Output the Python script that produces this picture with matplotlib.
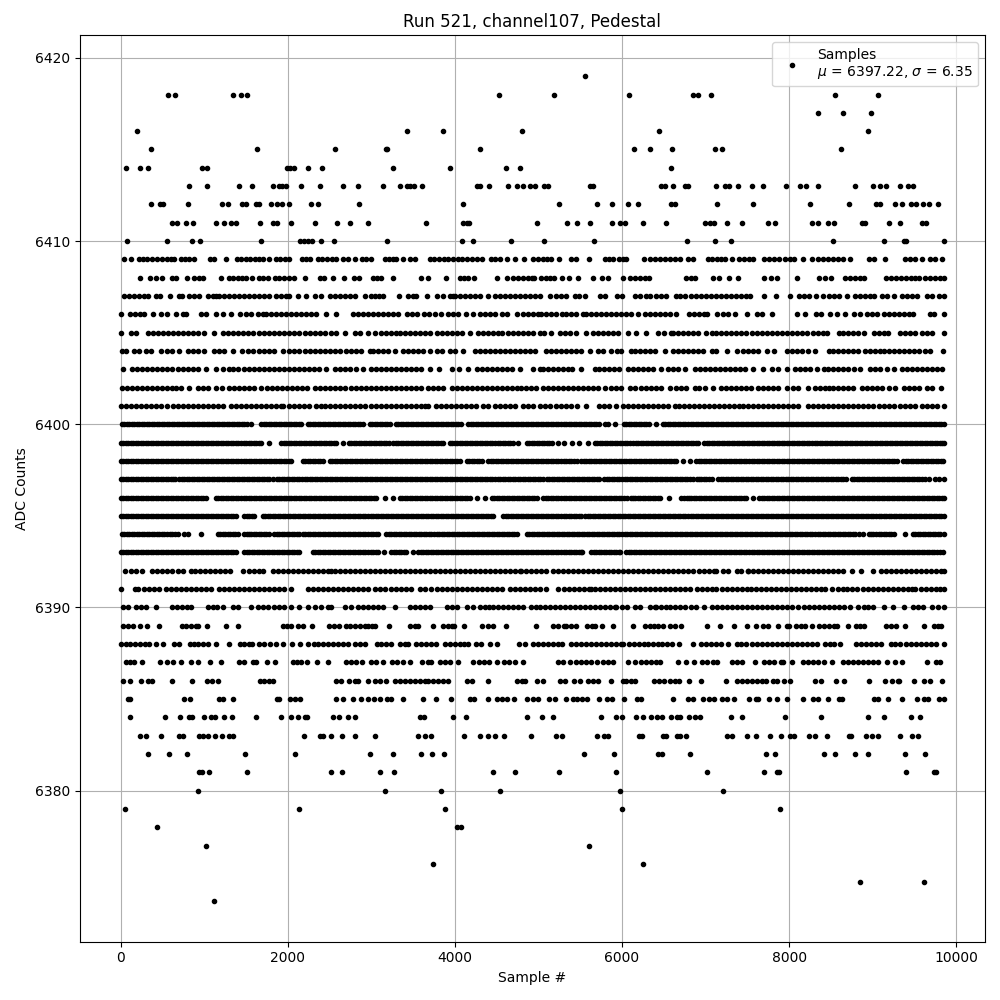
from matplotlib import pyplot as plt

# sample numbers, one list per ADC level
adc_6374 = [1112]
adc_6375 = [8844, 9612]
adc_6376 = [3740, 6252]
adc_6377 = [1016, 5604]
adc_6378 = [440, 4028, 4076]
adc_6379 = [56, 2132, 3884, 6000, 7896]
adc_6380 = [920, 3164, 3836, 4544, 5976, 7212]
adc_6381 = [932, 976, 1060, 1508, 2516, 2648, 3104, 3272, 4460, 4724, 5244, 5928, 7020, 7704, 7852, 7880, 9396, 9740, 9764]
adc_6382 = [332, 584, 788, 1484, 2084, 2984, 3260, 3596, 3728, 3872, 5544, 5904, 6432, 6476, 6816, 7728, 7836, 8412, 8544, 8784, 8940, 9384, 9624]
adc_6383 = [236, 300, 480, 692, 740, 940, 990, 1050, 1124, 1208, 1292, 1340, 2192, 2380, 2420, 2516, 2648, 2804, 3044, 3560, 3640, 3720, 4112, 4304, 4400, 4480, 4592, 4916, 5212, 5284, 5704, 5780, 5832, 6204, 6244, 6492, 6524, 6660, 6692, 6768, 7260, 7320, 7500, 7608, 7776, 7908, 8016, 8064, 8244, 8304, 8448, 8712, 8740, 8916, 8988, 9060, 9324, 9472, 9540]
adc_6384 = [116, 536, 704, 812, 852, 992, 1080, 1128, 1232, 1328, 1616, 1916, 2040, 2124, 2200, 2228, 2540, 2612, 2720, 2804, 3584, 3636, 3980, 4136, 4868, 5040, 5172, 5748, 5932, 6000, 6168, 6256, 6348, 6420, 6480, 6588, 6660, 6700, 6804, 6876, 6936, 7308, 7440, 7956, 8376, 8940, 9132, 9456, 9564]
adc_6385 = [88, 108, 752, 830, 1172, 1220, 1340, 1868, 1900, 2028, 2088, 2148, 2576, 2660, 2776, 2880, 2960, 3028, 3104, 3188, 3240, 3380, 3620, 3776, 3956, 4180, 4228, 4400, 4500, 4560, 4620, 4704, 4868, 4932, 5000, 5124, 5200, 5332, 5410, 5460, 5524, 5584, 5724, 5820, 5880, 6024, 6180, 6232, 6612, 6792, 6852, 6972, 7040, 7104, 7192, 7252, 7340, 7524, 7600, 7632, 7764, 7860, 7972, 8172, 8284, 8340, 8460, 8592, 8632, 9020, 9064, 9180, 9352, 9532, 9612, 9660, 9792, 9850]
adc_6386 = [28, 116, 240, 332, 380, 620, 848, 1028, 1090, 1160, 1668, 1720, 1780, 1820, 2580, 2640, 2732, 2800, 2840, 2960, 3040, 3100, 3180, 3280, 3340, 3400, 3460, 3520, 3580, 3640, 3680, 3740, 3800, 3860, 3920, 4148, 4200, 4392, 4740, 4800, 4840, 4988, 5052, 5260, 5312, 5420, 5492, 5592, 5652, 5712, 5868, 6012, 6052, 6104, 6152, 6384, 6440, 6500, 6570, 6632, 6684, 6796, 6948, 7240, 7372, 7432, 7492, 7552, 7612, 7680, 7720, 7812, 7860, 7940, 8012, 8312, 8380, 8556, 8652, 8952, 9144, 9232, 9300, 9312, 9492, 9612, 9692, 9828]
adc_6387 = [60, 110, 160, 260, 468, 550, 628, 720, 840, 920, 1068, 1196, 1412, 1480, 1580, 1620, 1752, 1848, 2060, 2110, 2160, 2228, 2348, 2480, 2700, 2760, 2820, 2888, 3000, 3060, 3140, 3248, 3310, 3380, 3460, 3612, 3680, 3720, 3820, 3880, 3940, 4040, 4212, 4292, 4350, 4410, 4500, 4592, 4650, 4720, 4820, 5232, 5290, 5372, 5452, 5510, 5570, 5630, 5700, 5770, 5830, 5892, 6072, 6160, 6232, 6290, 6350, 6404, 6452, 6672, 6764, 6864, 6960, 7020, 7084, 7140, 7312, 7380, 7432, 7592, 7704, 7760, 7820, 7900, 7932, 8040, 8172, 8230, 8290, 8340, 8412, 8512, 8640, 8700, 8760, 8820, 8880, 8940, 9000, 9060, 9172, 9264, 9352, 9652, 9764, 9810]
adc_6388 = [0, 60, 110, 170, 230, 290, 340, 420, 504, 640, 692, 828, 880, 930, 990, 1040, 1136, 1296, 1428, 1480, 1530, 1568, 1660, 1720, 1790, 1860, 1948, 2052, 2148, 2240, 2308, 2360, 2420, 2480, 2540, 2600, 2660, 2720, 2800, 2860, 2920, 3068, 3120, 3180, 3240, 3340, 3400, 3440, 3532, 3590, 3650, 3710, 3770, 3880, 3940, 4000, 4060, 4110, 4160, 4252, 4308, 4420, 4500, 4772, 4840, 4940, 4996, 5060, 5120, 5180, 5240, 5284, 5392, 5450, 5510, 5570, 5630, 5690, 5750, 5810, 5870, 5930, 5990, 6012, 6080, 6140, 6200, 6260, 6312, 6372, 6432, 6484, 6540, 6600, 6680, 6852, 6944, 7004, 7064, 7124, 7184, 7272, 7372, 7430, 7490, 7550, 7610, 7670, 7730, 7790, 7850, 7910, 7970, 8030, 8090, 8150, 8210, 8270, 8330, 8432, 8490, 8540, 8612, 8804, 8860, 8920, 8980, 9040, 9100, 9224, 9270, 9332, 9404, 9460, 9520, 9580, 9640, 9700, 9760, 9850]
adc_6389 = [28, 90, 150, 228, 320, 460, 732, 780, 840, 900, 928, 1028, 1256, 1400, 1940, 1990, 2040, 2120, 2188, 2292, 2492, 2550, 2610, 2692, 2740, 2800, 2860, 2920, 2960, 3012, 3048, 3216, 3460, 3520, 3560, 3740, 3852, 3920, 3960, 3992, 4112, 4320, 4400, 4460, 4608, 4968, 5180, 5240, 5300, 5332, 5392, 5452, 5580, 5640, 5672, 5764, 5892, 6132, 6272, 6340, 6380, 6432, 6490, 6570, 6632, 6712, 7012, 7172, 7344, 7500, 7600, 7692, 7750, 7870, 7980, 8000, 8080, 8140, 8192, 8272, 8352, 8412, 8480, 8540, 8572, 8700, 8800, 8844, 8900, 9164, 9220, 9280, 9392, 9612, 9732, 9780, 9812]
adc_6390 = [28, 90, 188, 240, 300, 428, 612, 670, 730, 790, 840, 1040, 1100, 1150, 1220, 1340, 1410, 1560, 1640, 1700, 1760, 1840, 1900, 1960, 2040, 2140, 2240, 2320, 2400, 2480, 2520, 2680, 2760, 2840, 2900, 2960, 3020, 3080, 3140, 3280, 3460, 3520, 3580, 3640, 3700, 3900, 3960, 4020, 4140, 4220, 4300, 4360, 4408, 4460, 4520, 4580, 4640, 4700, 4760, 4812, 4912, 4970, 5020, 5080, 5140, 5200, 5260, 5320, 5380, 5440, 5500, 5560, 5620, 5680, 5740, 5800, 5860, 5920, 5932, 6004, 6060, 6152, 6210, 6332, 6392, 6412, 6472, 6532, 6572, 6632, 6692, 6760, 6820, 6880, 6980, 7072, 7132, 7192, 7252, 7312, 7372, 7432, 7492, 7552, 7612, 7672, 7732, 7792, 7852, 7912, 7972, 8032, 8112, 8180, 8240, 8300, 8360, 8420, 8480, 8540, 8600, 8660, 8732, 8824, 8892, 8950, 9010, 9132, 9244, 9372, 9484, 9540, 9600, 9712, 9780, 9850]
adc_6391 = [0, 172, 212, 280, 340, 400, 460, 540, 600, 660, 720, 780, 840, 900, 960, 1020, 1080, 1180, 1240, 1300, 1360, 1420, 1480, 1540, 1600, 1660, 1720, 1780, 1840, 1900, 1960, 2040, 2240, 2300, 2360, 2420, 2480, 2540, 2600, 2660, 2720, 2780, 2840, 2900, 2960, 3040, 3100, 3160, 3240, 3300, 3360, 3420, 3480, 3580, 3640, 3720, 3780, 3840, 3900, 3960, 4020, 4080, 4140, 4200, 4260, 4320, 4380, 4440, 4500, 4560, 4660, 4720, 4780, 4840, 4900, 4960, 5020, 5090, 5240, 5300, 5360, 5420, 5480, 5540, 5600, 5632, 5680, 5740, 5800, 5860, 5920, 5980, 6040, 6100, 6160, 6220, 6280, 6340, 6400, 6452, 6512, 6572, 6632, 6692, 6752, 6812, 6900, 6960, 7012, 7072, 7120, 7192, 7252, 7320, 7380, 7432, 7492, 7540, 7600, 7660, 7720, 7780, 7840, 7900, 7960, 8020, 8080, 8140, 8200, 8260, 8320, 8380, 8430, 8512, 8580, 8640, 8692, 8752, 8812, 8880, 8940, 9000, 9060, 9120, 9180, 9240, 9300, 9360, 9420, 9472, 9512, 9580, 9640, 9700, 9760, 9810, 9850]
adc_6392 = [52, 120, 180, 260, 380, 440, 500, 560, 620, 680, 740, 840, 892, 950, 1010, 1070, 1130, 1190, 1250, 1310, 1460, 1530, 1590, 1650, 1700, 1820, 1880, 1940, 2000, 2060, 2120, 2180, 2240, 2300, 2360, 2420, 2480, 2520, 2560, 2620, 2680, 2740, 2800, 2860, 2920, 2980, 3040, 3100, 3160, 3220, 3280, 3340, 3400, 3460, 3520, 3580, 3640, 3700, 3760, 3820, 3880, 3940, 4000, 4060, 4120, 4180, 4240, 4300, 4360, 4420, 4480, 4540, 4600, 4660, 4720, 4780, 4790, 4850, 4910, 4970, 5030, 5090, 5172, 5230, 5290, 5350, 5410, 5470, 5530, 5590, 5650, 5710, 5770, 5830, 5890, 5950, 6010, 6070, 6130, 6190, 6250, 6310, 6370, 6430, 6490, 6550, 6610, 6670, 6730, 6790, 6850, 6920, 6980, 7040, 7100, 7124, 7210, 7270, 7372, 7430, 7510, 7512, 7570, 7630, 7690, 7750, 7810, 7870, 7930, 7990, 8050, 8110, 8170, 8230, 8290, 8350, 8410, 8470, 8530, 8590, 8650, 8752, 8860, 9000, 9100, 9160, 9220, 9280, 9340, 9400, 9460, 9520, 9580, 9640, 9700, 9760, 9820, 9850]
adc_6393 = [0, 60, 120, 180, 240, 300, 360, 420, 480, 540, 600, 660, 720, 780, 840, 900, 960, 1020, 1080, 1140, 1200, 1260, 1320, 1380, 1480, 1540, 1600, 1660, 1720, 1780, 1840, 1900, 1960, 2020, 2080, 2140, 2300, 2360, 2420, 2480, 2540, 2600, 2660, 2720, 2780, 2840, 2900, 2960, 3020, 3080, 3152, 3240, 3300, 3360, 3420, 3500, 3560, 3620, 3680, 3740, 3800, 3860, 3920, 3980, 4040, 4100, 4132, 4190, 4250, 4310, 4370, 4430, 4490, 4550, 4610, 4670, 4730, 4790, 4850, 4910, 4970, 5030, 5090, 5150, 5210, 5270, 5330, 5390, 5450, 5510, 5524, 5632, 5690, 5750, 5810, 5870, 5930, 5980, 6052, 6110, 6170, 6230, 6290, 6350, 6410, 6470, 6530, 6590, 6650, 6710, 6770, 6830, 6890, 6950, 7010, 7070, 7130, 7190, 7250, 7310, 7370, 7430, 7490, 7550, 7610, 7670, 7730, 7790, 7850, 7910, 7970, 8030, 8090, 8150, 8210, 8270, 8330, 8390, 8450, 8510, 8570, 8630, 8690, 8750, 8810, 8870, 8930, 8990, 9050, 9110, 9170, 9230, 9290, 9350, 9410, 9470, 9530, 9590, 9650, 9710, 9770, 9836,
            30, 90, 150, 210, 270, 330, 390, 450, 510, 570, 630, 690, 750, 810, 870, 930, 990, 1050, 1110, 1170, 1230, 1290, 1350, 1510, 1570, 1630, 1690, 1750, 1810, 1870, 1930, 1990, 2050, 2110, 2330, 2390, 2450, 2510, 2570, 2630, 2690, 2750, 2810, 2870, 2930, 2990, 3050, 3270, 3330, 3390, 3600, 3650, 3710, 3770, 3830, 3890, 3950, 4010, 4070, 4160, 4220, 4280, 4340, 4400, 4460, 4520, 4580, 4640, 4700, 4760, 4820, 4880, 4940, 5000, 5060, 5120, 5180, 5240, 5300, 5360, 5420, 5480, 5660, 5720, 5780, 5840, 5900, 5960, 6080, 6140, 6200, 6260, 6320, 6380, 6440, 6500, 6560, 6620, 6680, 6740, 6800, 6860, 6920, 6980, 7040, 7100, 7160, 7220, 7280, 7340, 7400, 7460, 7520, 7580, 7640, 7700, 7760, 7820, 7880, 7940, 8000, 8060, 8120, 8180, 8240, 8300, 8360, 8420, 8480, 8540, 8600, 8660, 8720, 8780, 8840, 8900, 8960, 9020, 9080, 9140, 9200, 9260, 9320, 9380, 9440, 9500, 9560, 9620, 9680, 9740, 9808]
adc_6394 = [12, 70, 130, 190, 250, 310, 370, 430, 490, 550, 620, 680, 752, 800, 960, 1160, 1220, 1280, 1340, 1400, 1480, 1530, 1590, 1650, 1710, 1770, 1840, 1900, 1960, 2020, 2080, 2140, 2180, 2240, 2300, 2360, 2420, 2480, 2540, 2600, 2660, 2720, 2780, 2840, 2900, 2960, 3020, 3080, 3180, 3240, 3300, 3360, 3420, 3480, 3540, 3600, 3660, 3720, 3780, 3840, 3900, 3960, 4020, 4080, 4140, 4200, 4260, 4320, 4380, 4440, 4500, 4560, 4620, 4680, 4740, 4860, 4920, 4980, 5040, 5100, 5160, 5220, 5280, 5340, 5400, 5460, 5520, 5580, 5640, 5700, 5760, 5820, 5880, 5940, 6000, 6060, 6120, 6180, 6240, 6300, 6360, 6420, 6480, 6540, 6600, 6660, 6720, 6780, 6840, 6900, 6960, 7020, 7080, 7140, 7200, 7260, 7320, 7380, 7440, 7500, 7560, 7620, 7680, 7740, 7800, 7860, 7920, 7980, 8040, 8100, 8160, 8220, 8280, 8340, 8400, 8460, 8520, 8580, 8640, 8700, 8760, 8832, 8884, 8952, 9010, 9070, 9130, 9190, 9250, 9384, 9484, 9540, 9600, 9660, 9720, 9780, 9850,
            40, 100, 160, 220, 280, 340, 400, 460, 520, 585, 650, 1190, 1250, 1310, 1370, 1510, 1560, 1620, 1680, 1740, 1870, 1930, 1990, 2050, 2110, 2210, 2270, 2330, 2390, 2450, 2510, 2570, 2630, 2690, 2750, 2810, 2870, 2930, 2990, 3050, 3210, 3270, 3330, 3390, 3450, 3510, 3570, 3630, 3690, 3750, 3810, 3870, 3930, 3990, 4050, 4110, 4170, 4230, 4290, 4350, 4410, 4470, 4530, 4590, 4650, 4710, 4890, 4950, 5010, 5070, 5130, 5190, 5250, 5310, 5370, 5430, 5490, 5550, 5610, 5670, 5730, 5790, 5850, 5910, 5970, 6030, 6090, 6150, 6210, 6270, 6330, 6390, 6450, 6510, 6570, 6630, 6690, 6750, 6810, 6870, 6930, 6990, 7050, 7110, 7170, 7230, 7290, 7350, 7410, 7470, 7530, 7590, 7650, 7710, 7770, 7830, 7890, 7950, 8010, 8070, 8130, 8190, 8250, 8310, 8370, 8430, 8490, 8550, 8610, 8670, 8730, 8790, 8980, 9040, 9100, 9160, 9220, 9510, 9570, 9630, 9690, 9750, 9810]
adc_6395 = [0, 60, 120, 180, 240, 300, 360, 420, 480, 540, 600, 660, 720, 780, 840, 900, 960, 1020, 1080, 1140, 1200, 1260, 1320, 1380, 1480, 1540, 1600, 1700, 1760, 1820, 1880, 1940, 2000, 2060, 2120, 2180, 2240, 2300, 2360, 2420, 2480, 2540, 2600, 2660, 2720, 2780, 2840, 2900, 2960, 3020, 3080, 3140, 3200, 3260, 3320, 3380, 3440, 3500, 3560, 3620, 3680, 3740, 3800, 3860, 3920, 3980, 4040, 4100, 4160, 4220, 4280, 4340, 4400, 4460, 4580, 4640, 4700, 4760, 4820, 4880, 4940, 5000, 5060, 5120, 5180, 5240, 5300, 5360, 5420, 5480, 5512, 5560, 5620, 5680, 5740, 5800, 5860, 5920, 5980, 6040, 6100, 6160, 6220, 6280, 6340, 6400, 6460, 6520, 6580, 6640, 6700, 6760, 6820, 6880, 6940, 7000, 7060, 7120, 7180, 7240, 7300, 7360, 7420, 7480, 7540, 7600, 7660, 7720, 7780, 7840, 7900, 7960, 8020, 8080, 8140, 8200, 8260, 8320, 8380, 8440, 8500, 8560, 8620, 8680, 8740, 8800, 8860, 8920, 8980, 9040, 9100, 9160, 9220, 9280, 9340, 9400, 9460, 9520, 9580, 9640, 9700, 9760, 9820, 9850,
            30, 90, 150, 210, 270, 330, 390, 450, 510, 570, 630, 690, 750, 810, 870, 930, 990, 1050, 1110, 1170, 1230, 1290, 1350, 1510, 1570, 1730, 1790, 1850, 1910, 1970, 2030, 2090, 2150, 2210, 2270, 2330, 2390, 2450, 2510, 2570, 2630, 2690, 2750, 2810, 2870, 2930, 2990, 3050, 3110, 3170, 3230, 3290, 3350, 3410, 3470, 3530, 3590, 3650, 3710, 3770, 3830, 3890, 3950, 4010, 4070, 4130, 4190, 4250, 4310, 4370, 4430, 4610, 4670, 4730, 4790, 4850, 4910, 4970, 5030, 5090, 5150, 5210, 5270, 5330, 5390, 5450, 5590, 5650, 5710, 5770, 5830, 5890, 5950, 6010, 6070, 6130, 6190, 6250, 6310, 6370, 6430, 6490, 6550, 6610, 6670, 6730, 6790, 6850, 6910, 6970, 7030, 7090, 7150, 7210, 7270, 7330, 7390, 7450, 7510, 7570, 7630, 7690, 7750, 7810, 7870, 7930, 7990, 8050, 8110, 8170, 8230, 8290, 8350, 8410, 8470, 8530, 8590, 8650, 8710, 8770, 8830, 8890, 8950, 9010, 9070, 9130, 9190, 9250, 9310, 9370, 9430, 9490, 9550, 9610, 9670, 9730, 9790]
adc_6396 = [0, 60, 120, 180, 240, 300, 360, 420, 480, 540, 600, 660, 720, 780, 840, 900, 960, 1020, 1140, 1200, 1260, 1320, 1380, 1440, 1500, 1560, 1620, 1680, 1740, 1800, 1860, 1920, 1980, 2040, 2100, 2160, 2220, 2280, 2340, 2400, 2460, 2520, 2580, 2640, 2700, 2760, 2820, 2880, 2940, 3000, 3060, 3160, 3260, 3340, 3400, 3460, 3520, 3580, 3640, 3700, 3760, 3820, 3880, 3940, 4000, 4060, 4120, 4180, 4260, 4360, 4440, 4500, 4560, 4620, 4680, 4740, 4800, 4860, 4920, 4988, 5060, 5120, 5180, 5240, 5300, 5360, 5420, 5480, 5540, 5600, 5660, 5720, 5780, 5840, 5900, 5960, 6020, 6060, 6104, 6160, 6220, 6280, 6340, 6400, 6460, 6560, 6712, 6772, 6830, 6890, 6950, 7010, 7070, 7130, 7190, 7250, 7310, 7370, 7430, 7490, 7564, 7640, 7700, 7760, 7820, 7880, 7940, 8000, 8060, 8120, 8180, 8240, 8300, 8360, 8420, 8480, 8540, 8600, 8660, 8720, 8780, 8840, 8900, 8960, 9020, 9080, 9140, 9200, 9260, 9320, 9380, 9440, 9500, 9560, 9620, 9680, 9740, 9800, 9850,
            30, 90, 150, 210, 270, 330, 390, 450, 510, 570, 630, 690, 750, 810, 870, 930, 990, 1170, 1230, 1290, 1350, 1410, 1470, 1530, 1590, 1650, 1710, 1770, 1830, 1890, 1950, 2010, 2070, 2130, 2190, 2250, 2310, 2370, 2430, 2490, 2550, 2610, 2670, 2730, 2790, 2850, 2910, 2970, 3030, 3370, 3430, 3490, 3550, 3610, 3670, 3730, 3790, 3850, 3910, 3970, 4030, 4090, 4150, 4470, 4530, 4590, 4650, 4710, 4770, 4830, 4890, 4950, 5090, 5150, 5210, 5270, 5330, 5390, 5450, 5510, 5570, 5630, 5690, 5750, 5810, 5870, 5930, 5990, 6130, 6190, 6250, 6310, 6370, 6430, 6740, 6800, 6860, 6920, 6980, 7040, 7100, 7160, 7220, 7280, 7340, 7400, 7460, 7670, 7730, 7790, 7850, 7910, 7970, 8030, 8090, 8150, 8210, 8270, 8330, 8390, 8450, 8510, 8570, 8630, 8690, 8750, 8810, 8870, 8930, 8990, 9050, 9110, 9170, 9230, 9290, 9350, 9410, 9470, 9530, 9590, 9650, 9710, 9770, 9825]
adc_6397 = [0, 60, 120, 180, 240, 300, 360, 420, 480, 540, 600, 652, 700, 760, 820, 880, 940, 1000, 1060, 1120, 1180, 1240, 1300, 1360, 1420, 1480, 1540, 1600, 1660, 1720, 1780, 1820, 1872, 1930, 1990, 2050, 2110, 2170, 2230, 2290, 2350, 2410, 2470, 2530, 2590, 2650, 2710, 2770, 2830, 2890, 2950, 3010, 3070, 3130, 3190, 3250, 3310, 3370, 3430, 3490, 3550, 3610, 3670, 3730, 3790, 3850, 3910, 3970, 4030, 4090, 4150, 4210, 4270, 4330, 4390, 4450, 4510, 4570, 4630, 4690, 4750, 4810, 4870, 4930, 4990, 5052, 5100, 5160, 5220, 5280, 5340, 5400, 5460, 5520, 5580, 5640, 5700, 5780, 5820, 5880, 5940, 6000, 6060, 6120, 6180, 6240, 6300, 6360, 6420, 6480, 6540, 6600, 6660, 6720, 6780, 6852, 6892, 6950, 7010, 7072, 7152, 7210, 7270, 7330, 7390, 7450, 7510, 7570, 7630, 7690, 7750, 7810, 7870, 7930, 7990, 8050, 8110, 8170, 8230, 8290, 8350, 8410, 8470, 8530, 8590, 8650, 8684, 8752, 8810, 8870, 8930, 8990, 9050, 9110, 9170, 9230, 9290, 9350, 9410, 9470, 9530, 9590, 9672, 9752, 9850,
            30, 90, 150, 210, 270, 330, 390, 450, 510, 570, 625, 730, 790, 850, 910, 970, 1030, 1090, 1150, 1210, 1270, 1330, 1390, 1450, 1510, 1570, 1630, 1690, 1750, 1900, 1960, 2020, 2080, 2140, 2200, 2260, 2320, 2380, 2440, 2500, 2560, 2620, 2680, 2740, 2800, 2860, 2920, 2980, 3040, 3100, 3160, 3220, 3280, 3340, 3400, 3460, 3520, 3580, 3640, 3700, 3760, 3820, 3880, 3940, 4000, 4060, 4120, 4180, 4240, 4300, 4360, 4420, 4480, 4540, 4600, 4660, 4720, 4780, 4840, 4900, 4960, 5020, 5130, 5190, 5250, 5310, 5370, 5430, 5490, 5550, 5610, 5670, 5730, 5850, 5910, 5970, 6030, 6090, 6150, 6210, 6270, 6330, 6390, 6450, 6510, 6570, 6630, 6690, 6750, 6810, 6920, 6980, 7040, 7180, 7240, 7300, 7360, 7420, 7480, 7540, 7600, 7660, 7720, 7780, 7840, 7900, 7960, 8020, 8080, 8140, 8200, 8260, 8320, 8380, 8440, 8500, 8560, 8620, 8780, 8840, 8900, 8960, 9020, 9080, 9140, 9200, 9260, 9320, 9380, 9440, 9500, 9560, 9630, 9790]
adc_6398 = [0, 60, 120, 180, 240, 300, 360, 420, 480, 540, 600, 660, 720, 780, 840, 900, 960, 1020, 1080, 1140, 1200, 1260, 1320, 1380, 1440, 1500, 1560, 1620, 1680, 1740, 1800, 1860, 1920, 1980, 2040, 2180, 2240, 2300, 2360, 2420, 2500, 2560, 2620, 2680, 2740, 2800, 2860, 2920, 2980, 3040, 3100, 3160, 3220, 3280, 3340, 3400, 3460, 3520, 3580, 3640, 3700, 3760, 3820, 3880, 3940, 4000, 4060, 4140, 4200, 4260, 4320, 4400, 4460, 4520, 4580, 4640, 4700, 4760, 4820, 4880, 4940, 5000, 5060, 5120, 5180, 5240, 5300, 5360, 5420, 5460, 5512, 5570, 5630, 5690, 5750, 5810, 5870, 5930, 5990, 6050, 6110, 6170, 6230, 6290, 6350, 6410, 6472, 6532, 6590, 6650, 6730, 6810, 6884, 6950, 7010, 7070, 7130, 7190, 7250, 7310, 7370, 7430, 7490, 7550, 7610, 7670, 7730, 7790, 7850, 7910, 7970, 8030, 8090, 8150, 8210, 8270, 8330, 8390, 8450, 8510, 8570, 8630, 8690, 8750, 8810, 8870, 8930, 8990, 9050, 9110, 9170, 9230, 9290, 9364, 9424, 9484, 9544, 9604, 9664, 9724, 9784, 9840,
            30, 90, 150, 210, 270, 330, 390, 450, 510, 570, 630, 690, 750, 810, 870, 930, 990, 1050, 1110, 1170, 1230, 1290, 1350, 1410, 1470, 1530, 1590, 1650, 1710, 1770, 1830, 1890, 1950, 2010, 2210, 2270, 2330, 2390, 2530, 2590, 2650, 2710, 2770, 2830, 2890, 2950, 3010, 3070, 3130, 3190, 3250, 3310, 3370, 3430, 3490, 3550, 3610, 3670, 3730, 3790, 3850, 3910, 3970, 4030, 4170, 4230, 4290, 4430, 4490, 4550, 4610, 4670, 4730, 4790, 4850, 4910, 4970, 5030, 5090, 5150, 5210, 5270, 5330, 5390, 5540, 5600, 5660, 5720, 5780, 5840, 5900, 5960, 6020, 6080, 6140, 6200, 6260, 6320, 6380, 6440, 6500, 6560, 6620, 6920, 6980, 7040, 7100, 7160, 7220, 7280, 7340, 7400, 7460, 7520, 7580, 7640, 7700, 7760, 7820, 7880, 7940, 8000, 8060, 8120, 8180, 8240, 8300, 8360, 8420, 8480, 8540, 8600, 8660, 8720, 8780, 8840, 8900, 8960, 9020, 9080, 9140, 9200, 9260, 9400, 9454, 9514, 9574, 9634, 9694, 9754, 9812]
adc_6399 = [0, 60, 120, 180, 240, 300, 360, 420, 480, 540, 600, 660, 720, 780, 840, 900, 960, 1020, 1080, 1140, 1200, 1260, 1320, 1380, 1440, 1500, 1560, 1620, 1680, 1780, 1920, 1980, 2040, 2100, 2160, 2220, 2280, 2340, 2400, 2460, 2520, 2580, 2660, 2732, 2790, 2850, 2910, 2970, 3030, 3090, 3150, 3210, 3260, 3320, 3380, 3440, 3500, 3560, 3620, 3680, 3740, 3800, 3860, 3940, 4000, 4060, 4120, 4180, 4240, 4300, 4360, 4420, 4480, 4540, 4600, 4660, 4700, 4760, 4860, 4920, 4980, 5040, 5100, 5160, 5232, 5300, 5404, 5484, 5592, 5672, 5732, 5792, 5852, 5912, 5972, 6032, 6092, 6132, 6192, 6252, 6312, 6372, 6432, 6492, 6552, 6612, 6672, 6732, 6792, 6852, 6912, 6980, 7044, 7104, 7164, 7224, 7284, 7344, 7404, 7464, 7524, 7584, 7644, 7704, 7764, 7824, 7884, 7944, 8004, 8064, 8124, 8184, 8244, 8304, 8364, 8424, 8484, 8544, 8604, 8664, 8724, 8784, 8844, 8904, 8964, 9024, 9084, 9144, 9204, 9264, 9324, 9384, 9444, 9504, 9564, 9624, 9684, 9744, 9804, 9850,
            30, 90, 150, 210, 270, 330, 390, 450, 510, 570, 630, 690, 750, 810, 870, 930, 990, 1050, 1110, 1170, 1230, 1290, 1350, 1410, 1470, 1530, 1590, 1650, 1950, 2010, 2070, 2130, 2190, 2250, 2310, 2370, 2430, 2490, 2550, 2760, 2820, 2880, 2940, 3000, 3060, 3120, 3180, 3290, 3350, 3410, 3470, 3530, 3590, 3650, 3710, 3770, 3830, 3970, 4030, 4090, 4150, 4210, 4270, 4330, 4390, 4450, 4510, 4570, 4630, 4890, 4950, 5010, 5070, 5130, 5702, 5762, 5822, 5882, 5942, 6002, 6062, 6162, 6222, 6282, 6342, 6402, 6462, 6522, 6582, 6642, 6702, 6762, 6822, 6882, 7014, 7074, 7134, 7194, 7254, 7314, 7374, 7434, 7494, 7554, 7614, 7674, 7734, 7794, 7854, 7914, 7974, 8034, 8094, 8154, 8214, 8274, 8334, 8394, 8454, 8514, 8574, 8634, 8694, 8754, 8814, 8874, 8934, 8994, 9054, 9114, 9174, 9234, 9294, 9354, 9414, 9474, 9534, 9594, 9654, 9714, 9774, 9828]
adc_6400 = [12, 70, 130, 190, 250, 310, 370, 430, 490, 550, 610, 670, 730, 790, 850, 910, 970, 1030, 1090, 1150, 1210, 1270, 1330, 1390, 1450, 1510, 1560, 1680, 1740, 1800, 1860, 1920, 1980, 2040, 2100, 2160, 2240, 2300, 2360, 2420, 2480, 2540, 2600, 2660, 2720, 2780, 2840, 2900, 2980, 3040, 3100, 3160, 3220, 3292, 3350, 3410, 3470, 3530, 3590, 3650, 3710, 3770, 3830, 3890, 3950, 4010, 4070, 4160, 4220, 4280, 4340, 4400, 4460, 4520, 4580, 4640, 4700, 4760, 4820, 4880, 4940, 5000, 5060, 5120, 5180, 5240, 5300, 5360, 5420, 5480, 5540, 5600, 5660, 5720, 5792, 5832, 5912, 6020, 6080, 6140, 6200, 6260, 6320, 6404, 6492, 6550, 6610, 6670, 6730, 6790, 6850, 6910, 6970, 7030, 7090, 7150, 7210, 7270, 7330, 7390, 7450, 7510, 7570, 7630, 7690, 7750, 7810, 7870, 7930, 7990, 8050, 8110, 8170, 8230, 8290, 8350, 8410, 8470, 8530, 8590, 8650, 8710, 8770, 8830, 8890, 8950, 9010, 9070, 9130, 9190, 9250, 9310, 9370, 9430, 9490, 9550, 9610, 9670, 9730, 9790, 9850,
            40, 100, 160, 220, 280, 340, 400, 460, 520, 580, 640, 700, 760, 820, 880, 940, 1000, 1060, 1120, 1180, 1240, 1300, 1360, 1420, 1480, 1710, 1770, 1830, 1890, 1950, 2010, 2070, 2130, 2270, 2330, 2390, 2450, 2510, 2570, 2630, 2690, 2750, 2810, 2870, 3010, 3070, 3130, 3190, 3320, 3380, 3440, 3500, 3560, 3620, 3680, 3740, 3800, 3860, 3920, 3980, 4040, 4190, 4250, 4310, 4370, 4430, 4490, 4550, 4610, 4670, 4730, 4790, 4850, 4910, 4970, 5030, 5090, 5150, 5210, 5270, 5330, 5390, 5450, 5510, 5570, 5630, 5690, 6050, 6110, 6170, 6230, 6290, 6520, 6580, 6640, 6700, 6760, 6820, 6880, 6940, 7000, 7060, 7120, 7180, 7240, 7300, 7360, 7420, 7480, 7540, 7600, 7660, 7720, 7780, 7840, 7900, 7960, 8020, 8080, 8140, 8200, 8260, 8320, 8380, 8440, 8500, 8560, 8620, 8680, 8740, 8800, 8860, 8920, 8980, 9040, 9100, 9160, 9220, 9280, 9340, 9400, 9460, 9520, 9580, 9640, 9700, 9760, 9820]
adc_6401 = [0, 60, 120, 180, 240, 300, 360, 420, 480, 560, 628, 690, 750, 810, 870, 930, 990, 1050, 1110, 1170, 1230, 1320, 1380, 1440, 1500, 1560, 1620, 1680, 1740, 1800, 1860, 1920, 1948, 2010, 2070, 2130, 2190, 2250, 2340, 2392, 2450, 2510, 2570, 2630, 2690, 2750, 2810, 2870, 2930, 2990, 3050, 3110, 3170, 3230, 3290, 3350, 3410, 3470, 3530, 3590, 3640, 3680, 3772, 3830, 3890, 3950, 4010, 4070, 4130, 4190, 4250, 4340, 4400, 4480, 4540, 4600, 4660, 4720, 4820, 4880, 4940, 5020, 5080, 5140, 5212, 5272, 5330, 5392, 5460, 5572, 5724, 5780, 5840, 5932, 6012, 6070, 6130, 6190, 6250, 6310, 6370, 6430, 6490, 6550, 6632, 6684, 6740, 6800, 6860, 6920, 6980, 7040, 7100, 7160, 7220, 7280, 7340, 7400, 7452, 7512, 7570, 7630, 7690, 7750, 7810, 7870, 7930, 7990, 8050, 8112, 8232, 8290, 8350, 8410, 8470, 8530, 8590, 8650, 8710, 8770, 8830, 8890, 8950, 9010, 9070, 9130, 9190, 9250, 9332, 9392, 9450, 9510, 9592, 9652, 9710, 9770, 9850]
adc_6402 = [12, 70, 130, 190, 250, 310, 370, 430, 490, 550, 610, 660, 720, 812, 920, 980, 1040, 1140, 1212, 1300, 1360, 1420, 1480, 1540, 1600, 1680, 1752, 1810, 1870, 1930, 1990, 2050, 2110, 2170, 2230, 2320, 2380, 2440, 2500, 2560, 2628, 2680, 2760, 2820, 2880, 2940, 3000, 3060, 3120, 3180, 3240, 3300, 3360, 3420, 3480, 3540, 3600, 3680, 3740, 3800, 3860, 3960, 4020, 4080, 4140, 4200, 4260, 4320, 4380, 4440, 4500, 4560, 4620, 4680, 4740, 4788, 4850, 4910, 4970, 5052, 5112, 5170, 5230, 5290, 5350, 5410, 5470, 5530, 5590, 5650, 5710, 5792, 5872, 5930, 5990, 6092, 6160, 6232, 6290, 6350, 6410, 6470, 6572, 6652, 6710, 6770, 6872, 6924, 6992, 7092, 7180, 7240, 7300, 7360, 7420, 7480, 7540, 7632, 7692, 7750, 7810, 7870, 7972, 8052, 8110, 8232, 8304, 8370, 8432, 8472, 8530, 8590, 8650, 8710, 8770, 8872, 8932, 8990, 9050, 9110, 9192, 9272, 9372, 9430, 9490, 9550, 9652, 9712, 9812]
adc_6403 = [32, 140, 200, 260, 320, 380, 440, 500, 560, 620, 680, 740, 800, 860, 920, 1020, 1140, 1220, 1292, 1350, 1410, 1470, 1530, 1590, 1650, 1710, 1770, 1830, 1890, 1950, 2010, 2070, 2130, 2190, 2250, 2310, 2370, 2460, 2560, 2620, 2680, 2740, 2820, 2900, 3000, 3060, 3120, 3180, 3240, 3300, 3360, 3420, 3480, 3540, 3600, 3700, 3812, 3960, 4052, 4160, 4260, 4320, 4380, 4440, 4500, 4560, 4620, 4680, 4780, 4940, 5020, 5052, 5110, 5170, 5230, 5290, 5350, 5404, 5512, 5672, 5730, 5790, 5850, 5910, 5970, 6072, 6132, 6190, 6250, 6310, 6370, 6472, 6552, 6610, 6670, 6752, 6872, 6930, 6990, 7050, 7110, 7170, 7230, 7290, 7350, 7410, 7470, 7572, 7692, 7792, 7872, 7972, 8072, 8130, 8190, 8250, 8332, 8412, 8470, 8530, 8590, 8650, 8710, 8772, 8852, 8972, 9030, 9092, 9172, 9252, 9352, 9410, 9470, 9530, 9590, 9650, 9710, 9770, 9832]
adc_6404 = [12, 60, 160, 220, 300, 360, 480, 560, 620, 700, 800, 860, 920, 1000, 1120, 1180, 1240, 1340, 1452, 1520, 1580, 1660, 1720, 1780, 1840, 1940, 2020, 2080, 2140, 2200, 2260, 2320, 2380, 2440, 2500, 2560, 2620, 2700, 2760, 2820, 2880, 2980, 3020, 3080, 3140, 3200, 3280, 3380, 3440, 3500, 3560, 3620, 3700, 3780, 3840, 3940, 4000, 4100, 4240, 4300, 4360, 4420, 4480, 4540, 4600, 4660, 4720, 4780, 4840, 4900, 4960, 5092, 5150, 5210, 5270, 5330, 5390, 5450, 5510, 5612, 5712, 5770, 5872, 5940, 5992, 6104, 6160, 6220, 6280, 6340, 6400, 6512, 6612, 6670, 6730, 6790, 6850, 6910, 6972, 7072, 7130, 7252, 7372, 7452, 7510, 7570, 7630, 7740, 7824, 7972, 8030, 8090, 8150, 8232, 8304, 8472, 8530, 8590, 8650, 8710, 8770, 8830, 8912, 8972, 9030, 9092, 9140, 9200, 9260, 9320, 9380, 9440, 9500, 9560, 9632, 9692, 9840]
adc_6405 = [8, 120, 180, 332, 390, 450, 510, 570, 630, 690, 750, 810, 870, 920, 1000, 1120, 1220, 1280, 1340, 1400, 1460, 1520, 1580, 1660, 1720, 1780, 1840, 1900, 1960, 2020, 2080, 2140, 2200, 2260, 2320, 2380, 2440, 2520, 2580, 2680, 2800, 2860, 2960, 3040, 3120, 3180, 3240, 3300, 3340, 3400, 3460, 3520, 3580, 3640, 3700, 3780, 3840, 3900, 3960, 4020, 4080, 4180, 4280, 4340, 4400, 4460, 4520, 4560, 4640, 4700, 4760, 4820, 4880, 4940, 5020, 5072, 5152, 5252, 5312, 5372, 5452, 5572, 5652, 5712, 5772, 5832, 5892, 5952, 6072, 6172, 6292, 6432, 6504, 6592, 6612, 6670, 6730, 6790, 6850, 6910, 7000, 7072, 7130, 7190, 7250, 7310, 7370, 7430, 7490, 7550, 7610, 7670, 7730, 7790, 7850, 7910, 7970, 8030, 8090, 8150, 8212, 8284, 8340, 8400, 8452, 8592, 8650, 8710, 8770, 8830, 8900, 9012, 9070, 9130, 9184, 9332, 9390, 9450, 9510, 9592, 9652, 9712, 9850]
adc_6406 = [8, 108, 170, 230, 280, 392, 480, 560, 660, 740, 780, 960, 1020, 1140, 1220, 1316, 1428, 1500, 1560, 1640, 1700, 1740, 1800, 1860, 1920, 1980, 2040, 2100, 2160, 2220, 2280, 2340, 2460, 2580, 2780, 2840, 2900, 2960, 3020, 3080, 3140, 3200, 3260, 3320, 3428, 3490, 3550, 3632, 3692, 3760, 3836, 3920, 3980, 4040, 4128, 4220, 4300, 4360, 4420, 4480, 4560, 4628, 4740, 4820, 4880, 4940, 5000, 5032, 5090, 5150, 5210, 5280, 5332, 5392, 5452, 5532, 5572, 5632, 5692, 5752, 5812, 5872, 5932, 5992, 6052, 6112, 6192, 6272, 6332, 6392, 6452, 6512, 6572, 6652, 6804, 6864, 6924, 6984, 7012, 7132, 7212, 7272, 7352, 7496, 7612, 7672, 7792, 8092, 8192, 8320, 8380, 8492, 8572, 8672, 8772, 8852, 8932, 8992, 9052, 9132, 9200, 9260, 9320, 9380, 9440, 9484, 9692, 9732, 9850]
adc_6407 = [40, 100, 160, 220, 280, 332, 420, 476, 592, 692, 730, 820, 880, 940, 1040, 1100, 1140, 1180, 1240, 1300, 1360, 1420, 1480, 1540, 1600, 1660, 1720, 1780, 1860, 1920, 1980, 2020, 2120, 2220, 2320, 2400, 2500, 2560, 2620, 2680, 2740, 2808, 2928, 2990, 3040, 3092, 3140, 3328, 3440, 3500, 3540, 3668, 3780, 3860, 3940, 3980, 4000, 4060, 4120, 4180, 4240, 4300, 4400, 4480, 4540, 4600, 4660, 4720, 4780, 4840, 4900, 4960, 5020, 5140, 5212, 5270, 5332, 5432, 5490, 5552, 5732, 5792, 5940, 6000, 6152, 6212, 6292, 6340, 6412, 6470, 6532, 6644, 6700, 6760, 6820, 6880, 6940, 7000, 7060, 7120, 7180, 7240, 7300, 7360, 7420, 7480, 7532, 7704, 7848, 8012, 8120, 8176, 8236, 8316, 8400, 8480, 8540, 8600, 8692, 8792, 8852, 8912, 8972, 9012, 9112, 9172, 9252, 9352, 9412, 9472, 9532, 9652, 9712, 9792, 9850]
adc_6408 = [228, 348, 428, 492, 612, 660, 788, 880, 932, 988, 1200, 1292, 1350, 1400, 1450, 1500, 1572, 1652, 1700, 1760, 1852, 1900, 1960, 2020, 2080, 2200, 2380, 2430, 2540, 2672, 2788, 2848, 3020, 3070, 3120, 3260, 3592, 3680, 3896, 4060, 4110, 4160, 4232, 4508, 4628, 4690, 4750, 4810, 4880, 4928, 4950, 5032, 5090, 5140, 5192, 5284, 5364, 5472, 5652, 5764, 5832, 6012, 6092, 6150, 6210, 6272, 6324, 6764, 6820, 6872, 7092, 7164, 7284, 7392, 7704, 7780, 7852, 8100, 8352, 8424, 8496, 8672, 8730, 8790, 8850, 8892, 9164, 9220, 9280, 9340, 9400, 9460, 9510, 9552, 9632, 9690, 9750, 9810, 9850]
adc_6409 = [40, 120, 220, 270, 320, 380, 440, 490, 550, 600, 640, 720, 770, 820, 872, 1072, 1120, 1260, 1388, 1440, 1500, 1550, 1610, 1660, 1700, 1772, 1860, 1910, 1970, 2020, 2172, 2220, 2260, 2360, 2410, 2470, 2530, 2580, 2660, 2720, 2800, 2888, 2940, 3000, 3160, 3210, 3260, 3300, 3380, 3468, 3520, 3700, 3750, 3810, 3870, 3920, 3980, 4040, 4090, 4150, 4210, 4270, 4320, 4428, 4480, 4540, 4620, 4720, 4828, 4932, 4990, 5050, 5100, 5152, 5244, 5392, 5452, 5600, 5792, 5840, 5892, 5964, 6012, 6052, 6264, 6332, 6392, 6452, 6510, 6570, 6630, 6692, 6792, 6852, 7032, 7080, 7140, 7190, 7232, 7312, 7404, 7460, 7520, 7572, 7704, 7760, 7820, 7880, 7950, 8012, 8064, 8168, 8280, 8340, 8400, 8460, 8530, 8590, 8650, 8732, 8952, 9012, 9144, 9392, 9450, 9510, 9592, 9692, 9750, 9832]
adc_6410 = [80, 560, 848, 944, 1676, 2144, 2192, 2240, 2284, 2396, 2552, 3188, 4088, 4220, 4676, 5064, 5664, 6780, 7116, 7308, 8520, 9132, 9380, 9404, 9852]
adc_6411 = [620, 672, 776, 860, 1140, 1232, 1316, 1376, 1664, 1828, 1876, 2036, 2324, 2588, 2744, 2960, 3656, 4100, 4140, 4172, 4980, 5340, 5460, 5616, 5880, 5980, 6036, 6252, 6528, 6996, 7056, 7104, 7260, 7440, 7748, 7832, 8280, 8340, 8460, 8532, 8868, 8908, 9192, 9324, 9588, 9636]
adc_6412 = [360, 472, 508, 800, 1208, 1284, 1452, 1500, 1620, 1660, 1796, 1868, 1928, 2012, 2276, 2360, 2852, 4100, 5244, 5704, 5880, 6072, 6192, 6588, 6636, 7140, 7572, 8256, 8712, 9036, 9092, 9264, 9348, 9456, 9516, 9600, 9672, 9780]
adc_6413 = [812, 1028, 1412, 1572, 1828, 1892, 1932, 1980, 2156, 2384, 2660, 2840, 3140, 3344, 3424, 3468, 3512, 3608, 4264, 4304, 4412, 4640, 4748, 4820, 4904, 4964, 5072, 5112, 5612, 5652, 6464, 6520, 6612, 6752, 6788, 7128, 7232, 7284, 7392, 7560, 7692, 7968, 8132, 8204, 8340, 8784, 9000, 9092, 9156, 9324, 9428, 9484]
adc_6414 = [68, 236, 332, 968, 1028, 1988, 2028, 2076, 2240, 2408, 3260, 3944, 4616, 4784, 6588]
adc_6415 = [368, 1628, 2564, 3170, 3182, 4304, 6144, 6336, 6600, 7116, 7200, 8616]
adc_6416 = [200, 3428, 3860, 4808, 6444, 8940]
adc_6417 = [8340, 8640, 8976]
adc_6418 = [572, 656, 1340, 1436, 1508, 4532, 5184, 6080, 6852, 6904, 7068, 8544, 9060]
adc_6419 = [5556]

levels = [
    (6374, adc_6374), (6375, adc_6375), (6376, adc_6376), (6377, adc_6377),
    (6378, adc_6378), (6379, adc_6379), (6380, adc_6380), (6381, adc_6381),
    (6382, adc_6382), (6383, adc_6383), (6384, adc_6384), (6385, adc_6385),
    (6386, adc_6386), (6387, adc_6387), (6388, adc_6388), (6389, adc_6389),
    (6390, adc_6390), (6391, adc_6391), (6392, adc_6392), (6393, adc_6393),
    (6394, adc_6394), (6395, adc_6395), (6396, adc_6396), (6397, adc_6397),
    (6398, adc_6398), (6399, adc_6399), (6400, adc_6400), (6401, adc_6401),
    (6402, adc_6402), (6403, adc_6403), (6404, adc_6404), (6405, adc_6405),
    (6406, adc_6406), (6407, adc_6407), (6408, adc_6408), (6409, adc_6409),
    (6410, adc_6410), (6411, adc_6411), (6412, adc_6412), (6413, adc_6413),
    (6414, adc_6414), (6415, adc_6415), (6416, adc_6416), (6417, adc_6417),
    (6418, adc_6418), (6419, adc_6419),
]

xs = []
ys = []
for level, samples in levels:
    xs.extend(samples)
    ys.extend([level] * len(samples))

fig = plt.figure(figsize=(10, 10), dpi=100)
plt.plot(xs, ys, 'k.', label='Samples\n$\\mu$ = 6397.22, $\\sigma$ = 6.35')
plt.title('Run 521, channel107, Pedestal')
plt.xlabel('Sample #')
plt.ylabel('ADC Counts')
plt.grid(True)
plt.legend(loc='upper right')
plt.tight_layout()
plt.subplots_adjust(top=0.965)
plt.savefig('out.png')
